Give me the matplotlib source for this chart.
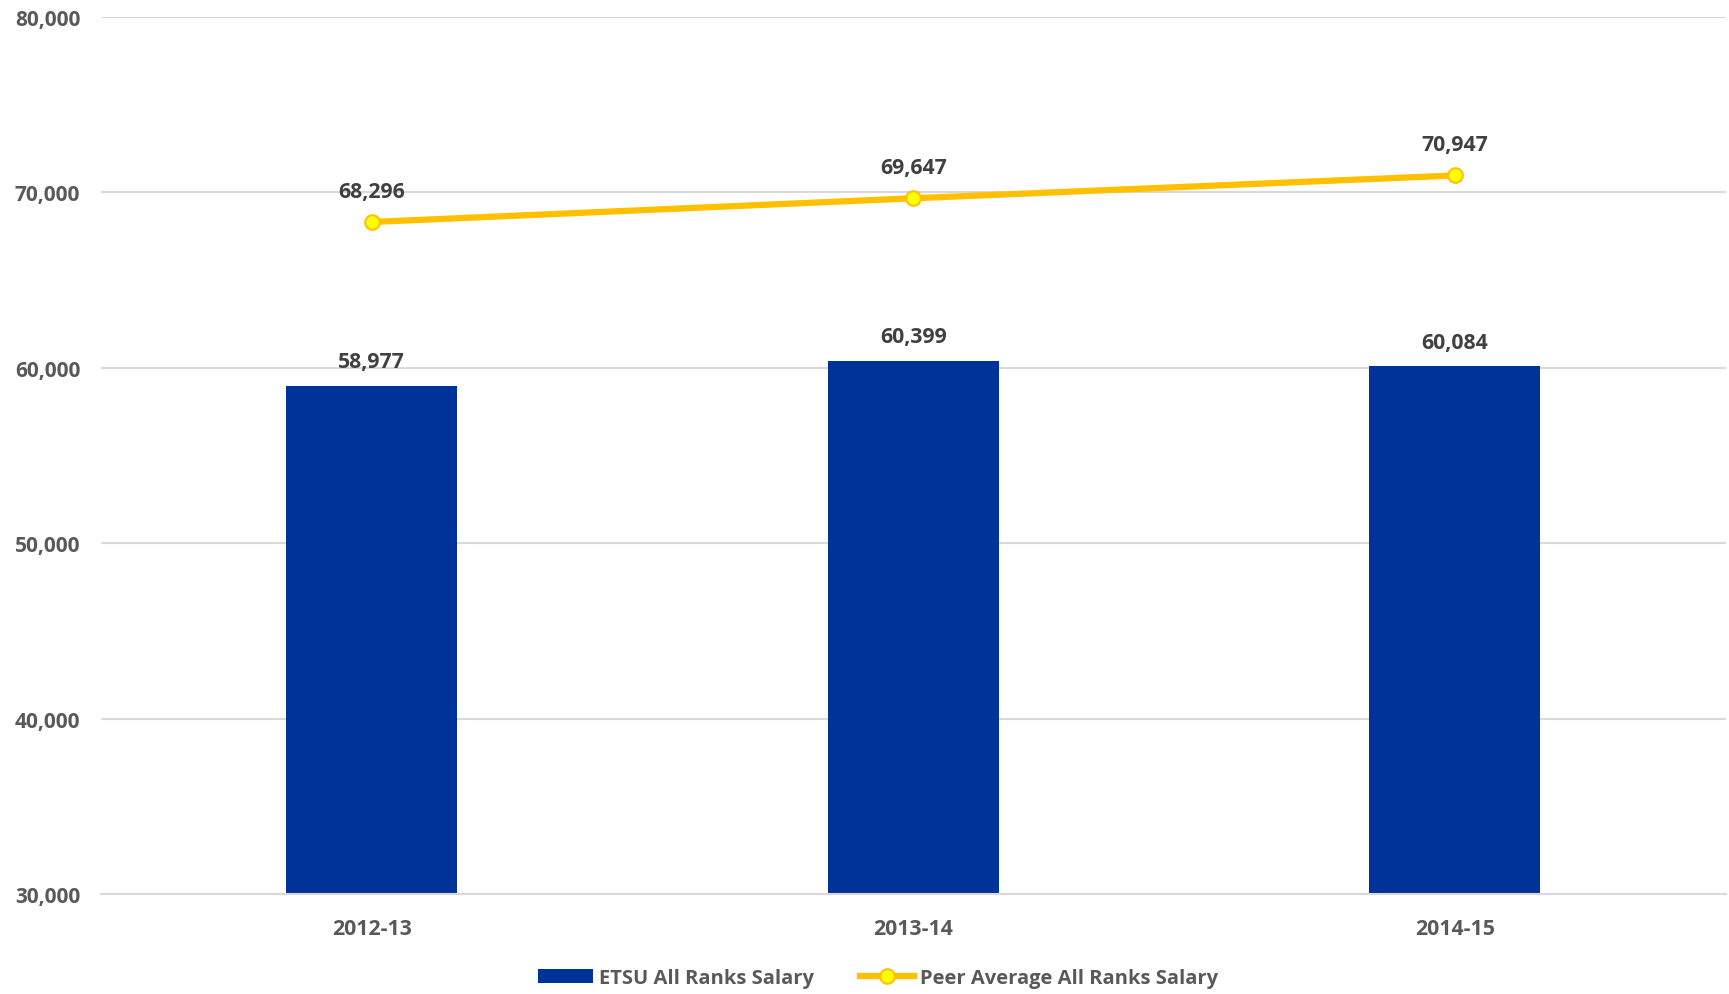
import matplotlib.pyplot as plt
from matplotlib.ticker import FuncFormatter

years = ['2012-13', '2013-14', '2014-15']
etsu_salary = [58977, 60399, 60084]
peer_salary = [68296, 69647, 70947]
yticks = [30000, 40000, 50000, 60000, 70000, 80000]

plt.rcParams['font.family'] = ['Open Sans', 'DejaVu Sans']
plt.rcParams['font.weight'] = 'bold'

fig = plt.figure(figsize=(17.29, 9.95), dpi=100)
ax = fig.add_axes([0.0584, 0.1005, 0.9396, 0.8818])

x = range(len(years))
bars = ax.bar(x, etsu_salary, width=0.316, color='#003399', zorder=2,
              label='ETSU All Ranks Salary')
line, = ax.plot(x, peer_salary, color='#FFC000', lw=4.5, marker='o', ms=10.5,
                mfc='#FFFF00', mec='#FFC000', mew=1.5, zorder=3,
                label='Peer Average All Ranks Salary')

# value labels
for xi, v in zip(x, etsu_salary):
    ax.annotate(f'{v:,}', (xi, v), xytext=(0, 17), textcoords='offset points',
                ha='center', va='center', fontsize=15.3, fontweight='bold', color='#404040')
for xi, v in zip(x, peer_salary):
    ax.annotate(f'{v:,}', (xi, v), xytext=(0, 22), textcoords='offset points',
                ha='center', va='center', fontsize=15.3, fontweight='bold', color='#404040')

ax.set_xlim(-0.5, 2.5)
ax.set_ylim(30000, 80000)
ax.set_yticks(yticks)
ax.yaxis.set_major_formatter(FuncFormatter(lambda v, p: f'{int(v):,}'))
ax.set_xticks(list(x))
ax.set_xticklabels(years)
ax.tick_params(axis='y', length=0, pad=15, labelsize=15, labelcolor='#595959')
ax.tick_params(axis='x', length=0, pad=17, labelsize=15.3, labelcolor='#595959')
ax.grid(axis='y', color='#D9D9D9', lw=1.5, zorder=0)
for s in ['top', 'right', 'left']:
    ax.spines[s].set_visible(False)
ax.spines['bottom'].set_color('#D9D9D9')
ax.spines['bottom'].set_linewidth(1.5)

leg = fig.legend(handles=[bars, line], loc='center', bbox_to_anchor=(0.508, 0.016),
                 ncol=2, frameon=False, fontsize=14.5, handlelength=2.7,
                 columnspacing=2.3, handletextpad=0.3)
for t in leg.get_texts():
    t.set_color('#595959')

fig.savefig('out.png', dpi=100)
